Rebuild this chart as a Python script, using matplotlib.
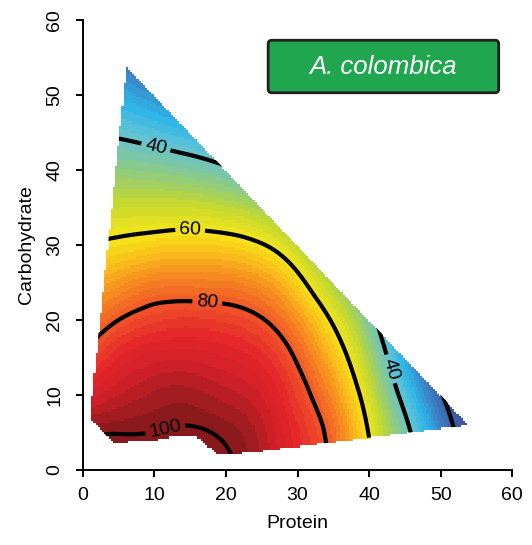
import numpy as np
import matplotlib
matplotlib.use("Agg")
import matplotlib.pyplot as plt
import matplotlib.tri as mtri
from matplotlib.colors import LinearSegmentedColormap
from matplotlib.path import Path
from matplotlib.patches import PathPatch, FancyBboxPatch

plt.rcParams['font.family'] = ['Liberation Sans', 'DejaVu Sans']

# performance surface sampled every 5 units (rows: carbohydrate, cols: protein)
protein_grid = [0, 5, 10, 15, 20, 25, 30, 35, 40, 45, 50, 55]
carb_grid = [0, 5, 10, 15, 20, 25, 30, 35, 40, 45, 50, 55]
surface = [
    [103.0, 104.0, 104.5, 104.5, 101.0, 96.5, 87.5, 78.0, 62.0, 45.0, 29.0, 13.0],
    [99.5, 99.8, 100.1, 100.6, 99.2, 95.0, 86.5, 77.0, 59.5, 42.5, 26.5, 10.0],
    [90.0, 94.0, 96.5, 97.0, 95.0, 91.8, 83.5, 72.5, 55.0, 37.0, 20.8, 4.0],
    [81.0, 88.0, 91.0, 91.5, 90.0, 87.0, 79.0, 66.2, 49.5, 31.0, 14.0, -3.0],
    [73.5, 80.0, 83.5, 84.5, 83.5, 80.5, 72.0, 58.8, 43.5, 24.5, 7.0, -10.0],
    [67.0, 71.0, 74.5, 74.9, 74.5, 71.5, 62.8, 50.0, 37.0, 17.0, -1.0, -18.0],
    [60.3, 61.8, 63.5, 64.3, 63.5, 60.5, 52.0, 39.5, 29.0, 9.0, -9.0, -26.0],
    [53.4, 53.9, 54.2, 54.0, 52.5, 49.0, 40.5, 28.5, 20.0, 0.0, -17.0, -34.0],
    [46.6, 46.4, 45.5, 44.0, 41.3, 37.0, 29.0, 17.0, 10.0, -9.0, -25.0, -42.0],
    [39.7, 38.8, 36.7, 34.0, 30.0, 25.0, 17.5, 6.0, 0.0, -18.0, -33.0, -50.0],
    [32.9, 31.5, 28.0, 24.0, 19.0, 13.0, 6.0, -5.0, -10.0, -27.0, -41.0, -58.0],
    [26.0, 24.0, 19.0, 14.0, 8.0, 1.0, -6.0, -16.0, -20.0, -36.0, -49.0, -66.0],
]

# outline of the diets that were sampled
hull_protein = [6.1, 1.1, 1.1, 4.3, 11.2, 12.4, 15.8, 19.0, 24.0, 54.0]
hull_carb = [53.8, 7.7, 6.8, 3.6, 4.1, 4.5, 4.5, 2.0, 2.4, 6.0]

contour_levels = [20, 40, 60, 80, 100]
label_spots = [(10.2, 43.0), (15.0, 32.0), (17.4, 22.6), (11.6, 5.2), (42.7, 13.4)]

color_values = [10, 20, 26, 32, 38, 42, 47, 53, 60, 66, 72, 80, 88, 94, 100, 106]
color_list = ['#3b4b9e', '#3d63ad', '#3b86c9', '#2db5ea', '#62c3d3', '#77c5b0',
              '#95cc74', '#c6d92f', '#f5e61b', '#f9c11a', '#f7921e', '#f15a29',
              '#e6262a', '#cc1f27', '#8b1a1d', '#7d181a']

species = 'A. colombica'

# smooth the coarse grid onto a fine one
PP, CC = np.meshgrid(protein_grid, carb_grid)
tri = mtri.Triangulation(PP.ravel(), CC.ravel())
interp = mtri.CubicTriInterpolator(tri, np.array(surface).ravel(), kind='min_E')

step = 0.3
edges = np.arange(0, 60 + step / 2, step)
centres = (edges[:-1] + edges[1:]) / 2
XC, YC = np.meshgrid(centres, centres)
Z = np.asarray(interp(XC, YC).filled(np.nan))

hull = Path(np.column_stack([hull_protein + [hull_protein[0]], hull_carb + [hull_carb[0]]]))
inside = hull.contains_points(np.column_stack([XC.ravel(), YC.ravel()])).reshape(XC.shape)
Zmask = np.ma.masked_where(~inside, Z)

vmin, vmax = color_values[0], color_values[-1]
stops = [((v - vmin) / (vmax - vmin), c) for v, c in zip(color_values, color_list)]
cmap = LinearSegmentedColormap.from_list('perf', stops, N=48)

fig = plt.figure(figsize=(5.32, 5.45), dpi=100)
ax = fig.add_axes([0.1555, 0.1376, 0.8075, 0.8257])

ax.pcolormesh(edges, edges, Zmask, cmap=cmap, vmin=vmin, vmax=vmax, shading='flat')

cs = ax.contour(XC, YC, Z, levels=contour_levels, colors='black', linewidths=3)
clip = PathPatch(hull, transform=ax.transData, facecolor='none', edgecolor='none')
ax.add_patch(clip)
cs.set_clip_path(clip)
ax.clabel(cs, manual=label_spots, inline=True, inline_spacing=4, fontsize=14, fmt='%d')

box = FancyBboxPatch((25.9, 50.3), 32.2, 7.0, boxstyle='round,pad=0,rounding_size=0.5',
                     facecolor='#1fa64f', edgecolor='#231f20', linewidth=2, zorder=5)
ax.add_patch(box)
ax.text(42.0, 53.8, species, ha='center', va='center', color='white',
        fontsize=18.5, style='italic', zorder=6)

ax.set_xlim(0, 60)
ax.set_ylim(0, 60)
ax.set_xticks(range(0, 61, 10))
ax.set_yticks(range(0, 61, 10))
ax.tick_params(direction='out', length=5, width=1.4, labelsize=14, pad=7)
ax.tick_params(axis='y', labelrotation=90, pad=9)
for lbl in ax.get_yticklabels():
    lbl.set_va('center')
for side in ['top', 'right']:
    ax.spines[side].set_visible(False)
for side in ['left', 'bottom']:
    ax.spines[side].set_linewidth(1.4)
ax.set_xlabel('Protein', fontsize=14, labelpad=8)
ax.set_ylabel('Carbohydrate', fontsize=14, labelpad=8)

fig.savefig('out.png', dpi=100)
